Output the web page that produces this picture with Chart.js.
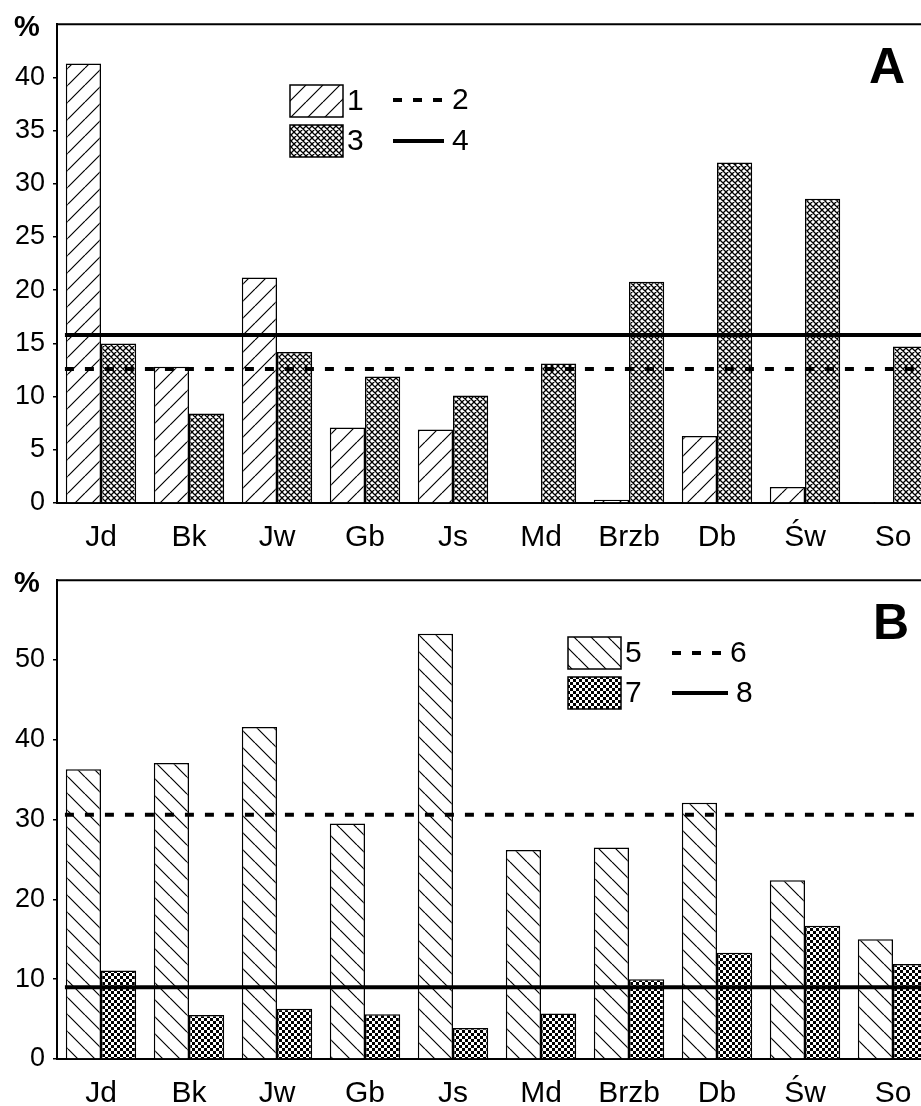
<!DOCTYPE html>
<html>
<head>
<meta charset="utf-8">
<script src="https://cdn.jsdelivr.net/npm/chart.js@4/dist/chart.umd.min.js"></script>
<style>
  html, body { margin: 0; padding: 0; background: #fff; overflow: hidden; }
  canvas { display: block; }
</style>
</head>
<body>
<canvas id="chart-a" width="940" height="556"></canvas>
<canvas id="chart-b" width="940" height="556"></canvas>
<script>
const categorias = ["Jd", "Bk", "Jw", "Gb", "Js", "Md", "Brzb", "Db", "Św", "So"];

// panel A
const serie1 = [41.3, 12.8, 21.2, 7.1, 6.9, 0, 0.3, 6.3, 1.5, 0.1];
const serie3 = [15.0, 8.4, 14.2, 11.9, 10.1, 13.1, 20.8, 32.0, 28.6, 14.7];
const media2 = 12.6;
const media4 = 15.8;
const ticksA = [0, 5, 10, 15, 20, 25, 30, 35, 40];

// panel B
const serie5 = [36.3, 37.1, 41.6, 29.5, 53.3, 26.2, 26.5, 32.1, 22.4, 15.0];
const serie7 = [11.1, 5.5, 6.3, 5.6, 3.9, 5.7, 10.0, 13.3, 16.7, 11.9];
const media6 = 30.6;
const media8 = 9.0;
const ticksB = [0, 10, 20, 30, 40, 50];

// reference lines run from the first bar's edge to the right border (category units)
const linhaInicio = -0.41;
const linhaFim = 9.6;

const fonte = "'Liberation Sans', Arial, sans-serif";

function criarTile(tam, desenho) {
  const c = document.createElement("canvas");
  c.width = tam;
  c.height = tam;
  const g = c.getContext("2d");
  g.fillStyle = "#fff";
  g.fillRect(0, 0, tam, tam);
  desenho(g, tam);
  return c.getContext("2d").createPattern(c, "repeat");
}

function hachura(direcao) {
  return criarTile(17, (g, s) => {
    g.strokeStyle = "#000";
    g.lineWidth = 1.2;
    g.beginPath();
    for (const x0 of [-s, 0, s]) {
      if (direcao === "/") {
        g.moveTo(x0, s);
        g.lineTo(x0 + s, 0);
      } else {
        g.moveTo(x0, 0);
        g.lineTo(x0 + s, s);
      }
    }
    g.stroke();
  });
}

function cruzada() {
  return criarTile(6, (g, s) => {
    g.strokeStyle = "#000";
    g.lineWidth = 1.3;
    g.beginPath();
    for (const x0 of [-s, 0, s]) {
      g.moveTo(x0, s);
      g.lineTo(x0 + s, 0);
      g.moveTo(x0, 0);
      g.lineTo(x0 + s, s);
    }
    g.stroke();
  });
}

function xadrez() {
  return criarTile(6, (g, s) => {
    g.fillStyle = "#000";
    g.fillRect(0, 0, 3, 3);
    g.fillRect(3, 3, 3, 3);
  });
}

// mean lines, drawn through the x (category) and y scales
const linhasPlugin = {
  id: "linhasMedia",
  afterDatasetsDraw(chart, args, opts) {
    const { ctx, chartArea, scales } = chart;
    ctx.save();
    ctx.beginPath();
    ctx.rect(chartArea.left, chartArea.top - 2, chartArea.right - chartArea.left, chartArea.bottom - chartArea.top + 4);
    ctx.clip();
    ctx.strokeStyle = "#000";
    opts.linhas.forEach(l => {
      const y = scales.y.getPixelForValue(l.valor);
      ctx.lineWidth = l.largura;
      ctx.setLineDash(l.tracejado);
      ctx.beginPath();
      ctx.moveTo(scales.x.getPixelForValue(linhaInicio), y);
      ctx.lineTo(scales.x.getPixelForValue(linhaFim), y);
      ctx.stroke();
    });
    ctx.setLineDash([]);
    ctx.restore();

    // top frame line
    ctx.save();
    ctx.strokeStyle = "#000";
    ctx.lineWidth = 2;
    ctx.beginPath();
    ctx.moveTo(chartArea.left - 1, chartArea.top);
    ctx.lineTo(chart.width, chartArea.top);
    ctx.stroke();
    ctx.restore();
  }
};

const legendaPlugin = {
  id: "legendaPainel",
  afterDraw(chart, args, opts) {
    const ctx = chart.ctx;
    ctx.save();
    ctx.fillStyle = "#000";
    ctx.textBaseline = "alphabetic";
    ctx.textAlign = "left";

    // "%" and panel letter
    ctx.font = "bold 29px " + fonte;
    ctx.fillText("%", 14, 36);
    ctx.font = "bold 50px " + fonte;
    ctx.fillText(opts.letra, opts.letraX, 83);

    ctx.font = "30px " + fonte;
    const ds = chart.data.datasets;
    const linhas = chart.options.plugins.linhasMedia.linhas;
    opts.itens.forEach(item => {
      if (item.tipo === "caixa") {
        const d = ds[item.indice];
        ctx.fillStyle = d.backgroundColor;
        ctx.fillRect(item.x, item.y - 16, 53, 32);
        ctx.strokeStyle = "#000";
        ctx.lineWidth = 1.5;
        ctx.strokeRect(item.x, item.y - 16, 53, 32);
        ctx.fillStyle = "#000";
        ctx.textBaseline = "middle";
        ctx.fillText(d.label, item.x + 57, item.y + 1);
      } else {
        const l = linhas[item.indice];
        ctx.strokeStyle = "#000";
        ctx.lineWidth = l.largura;
        ctx.setLineDash(l.tracejado);
        ctx.beginPath();
        ctx.moveTo(item.x, item.y);
        ctx.lineTo(item.x + item.w, item.y);
        ctx.stroke();
        ctx.setLineDash([]);
        ctx.fillStyle = "#000";
        ctx.textBaseline = "middle";
        ctx.fillText(l.label, item.x + item.w + 8, item.y + 1);
      }
    });
    ctx.restore();
  }
};

function criarGrafico(id, cfg) {
  const ctx = document.getElementById(id);
  return new Chart(ctx, {
    type: "bar",
    data: {
      labels: categorias,
      datasets: [
        {
          label: cfg.nomes[0],
          data: cfg.barras1,
          backgroundColor: cfg.padrao1,
          borderColor: "#000",
          borderWidth: 1.5,
          categoryPercentage: 0.8,
          barPercentage: 1.0
        },
        {
          label: cfg.nomes[2],
          data: cfg.barras2,
          backgroundColor: cfg.padrao2,
          borderColor: "#000",
          borderWidth: 1.5,
          categoryPercentage: 0.8,
          barPercentage: 1.0
        }
      ]
    },
    options: {
      responsive: false,
      animation: false,
      layout: { padding: { top: 24, left: 0, right: 3, bottom: 0 } },
      plugins: {
        legend: { display: false },
        tooltip: { enabled: false },
        legendaPainel: cfg.legenda,
        linhasMedia: {
          linhas: [
            { valor: cfg.media1, label: cfg.nomes[1], largura: 4, tracejado: [9, 11] },
            { valor: cfg.media2, label: cfg.nomes[3], largura: 4, tracejado: [] }
          ]
        }
      },
      scales: {
        x: {
          type: "category",
          offset: true,
          grid: { display: false },
          border: { display: true, color: "#000", width: 2 },
          ticks: {
            color: "#000",
            padding: 9,
            maxRotation: 0,
            autoSkip: false,
            font: { family: fonte, size: 30 }
          },
          afterFit(s) { s.height = 53; }
        },
        y: {
          min: 0,
          max: cfg.yMax,
          grid: {
            drawOnChartArea: false,
            drawTicks: true,
            tickLength: 4,
            color: "#000",
            lineWidth: 1.5
          },
          border: { display: true, color: "#000", width: 2 },
          ticks: {
            color: "#000",
            padding: 8,
            font: { family: fonte, size: 27 }
          },
          afterBuildTicks(s) {
            s.ticks = cfg.ticks.map(v => ({ value: v }));
          },
          afterFit(s) { s.width = 57; }
        }
      }
    },
    plugins: [linhasPlugin, legendaPlugin]
  });
}

const graficoA = criarGrafico("chart-a", {
  nomes: ["1", "2", "3", "4"],
  barras1: serie1,
  barras2: serie3,
  media1: media2,
  media2: media4,
  padrao1: hachura("/"),
  padrao2: cruzada(),
  yMax: 45,
  ticks: ticksA,
  legenda: {
    letra: "A",
    letraX: 869,
    itens: [
      { tipo: "caixa", indice: 0, x: 290, y: 101 },
      { tipo: "linha", indice: 0, x: 393, y: 100, w: 51 },
      { tipo: "caixa", indice: 1, x: 290, y: 141 },
      { tipo: "linha", indice: 1, x: 393, y: 141, w: 51 }
    ]
  }
});

const graficoB = criarGrafico("chart-b", {
  nomes: ["5", "6", "7", "8"],
  barras1: serie5,
  barras2: serie7,
  media1: media6,
  media2: media8,
  padrao1: hachura("\\"),
  padrao2: xadrez(),
  yMax: 60,
  ticks: ticksB,
  legenda: {
    letra: "B",
    letraX: 873,
    itens: [
      { tipo: "caixa", indice: 0, x: 568, y: 97 },
      { tipo: "linha", indice: 0, x: 672, y: 97, w: 50 },
      { tipo: "caixa", indice: 1, x: 568, y: 137 },
      { tipo: "linha", indice: 1, x: 672, y: 137, w: 56 }
    ]
  }
});
</script>
</body>
</html>
